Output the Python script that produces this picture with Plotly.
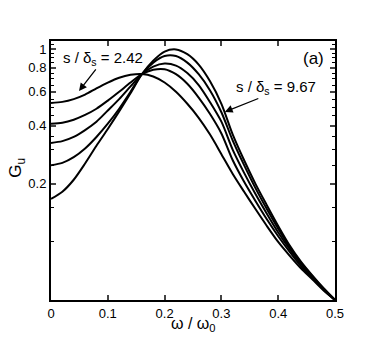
import plotly.graph_objects as go

# frequency axis omega / omega_0
omega = [0.00, 0.02, 0.04, 0.06, 0.08, 0.10, 0.12, 0.14, 0.16, 0.18, 0.20, 0.22, 0.24,
         0.26, 0.28, 0.30, 0.32, 0.34, 0.36, 0.38, 0.40, 0.42, 0.44, 0.46, 0.48, 0.50]

# G_u for each s/delta_s
g_242 = [0.525, 0.532, 0.55, 0.58, 0.625, 0.67, 0.71, 0.735, 0.742, 0.72, 0.67, 0.60, 0.52,
         0.44, 0.36, 0.285, 0.225, 0.182, 0.148, 0.121, 0.100, 0.085, 0.073, 0.064, 0.056, 0.050]
g_423 = [0.41, 0.415, 0.43, 0.455, 0.49, 0.54, 0.60, 0.67, 0.74, 0.78, 0.785, 0.74, 0.66,
         0.56, 0.46, 0.365, 0.265, 0.205, 0.163, 0.131, 0.107, 0.089, 0.075, 0.065, 0.0565, 0.050]
g_605 = [0.326, 0.333, 0.35, 0.38, 0.42, 0.48, 0.55, 0.64, 0.74, 0.81, 0.84, 0.82, 0.75,
         0.65, 0.53, 0.42, 0.30, 0.228, 0.177, 0.140, 0.112, 0.092, 0.077, 0.066, 0.057, 0.050]
g_786 = [0.25, 0.257, 0.275, 0.305, 0.35, 0.41, 0.49, 0.60, 0.74, 0.85, 0.92, 0.92, 0.85,
         0.74, 0.61, 0.47, 0.335, 0.25, 0.19, 0.148, 0.117, 0.094, 0.078, 0.0665, 0.0572, 0.050]
g_967 = [0.167, 0.182, 0.21, 0.255, 0.315, 0.385, 0.475, 0.59, 0.74, 0.87, 0.97, 0.995, 0.94,
         0.83, 0.68, 0.52, 0.36, 0.265, 0.20, 0.155, 0.121, 0.096, 0.079, 0.067, 0.0575, 0.050]

series = {'2.42': g_242, '4.23': g_423, '6.05': g_605, '7.86': g_786, '9.67': g_967}

y_major = [0.2, 0.4, 0.6, 0.8, 1]
y_labels = ['0.2', '0.4', '0.6', '0.8', '1']
y_minor = [0.05, 0.1, 0.15, 0.25, 0.3, 0.35, 0.45, 0.5, 0.55, 0.65, 0.7, 0.75, 0.85, 0.9, 0.95, 1.05]
x_ticks = [0, 0.1, 0.2, 0.3, 0.4, 0.5]

FONT = 'Liberation Sans, Arial, sans-serif'

fig = go.Figure()
for name, g in series.items():
    fig.add_trace(go.Scatter(x=omega, y=g, mode='lines', name=name,
                             line=dict(color='black', width=2, shape='spline', smoothing=0.8)))

# page body has an 8px margin, so the figure is a bit smaller than the window
fig.update_layout(
    width=373, height=331,
    margin=dict(l=43, r=46, t=33, b=39),
    plot_bgcolor='white', paper_bgcolor='white',
    showlegend=False,
    font=dict(family=FONT, size=13, color='black'),
)

fig.update_xaxes(range=[0, 0.5], tickvals=x_ticks, ticks='inside', ticklen=5, tickwidth=1.5,
                 showline=True, linecolor='black', linewidth=2, mirror='ticks',
                 showgrid=False, zeroline=False, tickfont=dict(size=13))
fig.update_yaxes(type='log', range=[-1.30103, 0.0414], tickvals=y_major, ticktext=y_labels,
                 ticks='inside', ticklen=5, tickwidth=1.5,
                 minor=dict(tickvals=y_minor, ticks='inside', ticklen=3, tickwidth=1, tickcolor='black'),
                 showline=True, linecolor='black', linewidth=2, mirror='ticks',
                 showgrid=False, zeroline=False, tickfont=dict(size=13))

# axis titles
fig.add_annotation(text='G<sub>u</sub>', xref='paper', yref='paper', x=-0.12, y=0.51,
                   xanchor='center', yanchor='middle',
                   textangle=-90, showarrow=False, font=dict(size=17))
fig.add_annotation(text='ω / ω<sub>0</sub>', xref='paper', yref='paper', x=0.5, y=-0.095,
                   xanchor='center', yanchor='middle',
                   showarrow=False, font=dict(size=16))

# labels
fig.add_annotation(text='(a)', xref='paper', yref='paper', x=0.923, y=0.934,
                   xanchor='center', yanchor='middle',
                   showarrow=False, font=dict(size=17))
fig.add_annotation(text='s / δ<sub>s</sub> = 2.42', xref='paper', yref='paper', x=0.183, y=0.934,
                   xanchor='center', yanchor='middle',
                   showarrow=False, font=dict(size=15))
fig.add_annotation(text='s / δ<sub>s</sub> = 9.67', xref='paper', yref='paper', x=0.792, y=0.819,
                   xanchor='center', yanchor='middle',
                   showarrow=False, font=dict(size=15))

# arrows
fig.add_annotation(x=0.0493, y=-0.2176, text='', showarrow=True, ax=18, ay=-23,
                   arrowhead=2, arrowsize=1.2, arrowwidth=1.3, arrowcolor='black')
fig.add_annotation(x=0.306, y=-0.326, text='', showarrow=True, ax=35, ay=-14,
                   arrowhead=2, arrowsize=1.2, arrowwidth=1.3, arrowcolor='black')

fig.write_html("out.html")
